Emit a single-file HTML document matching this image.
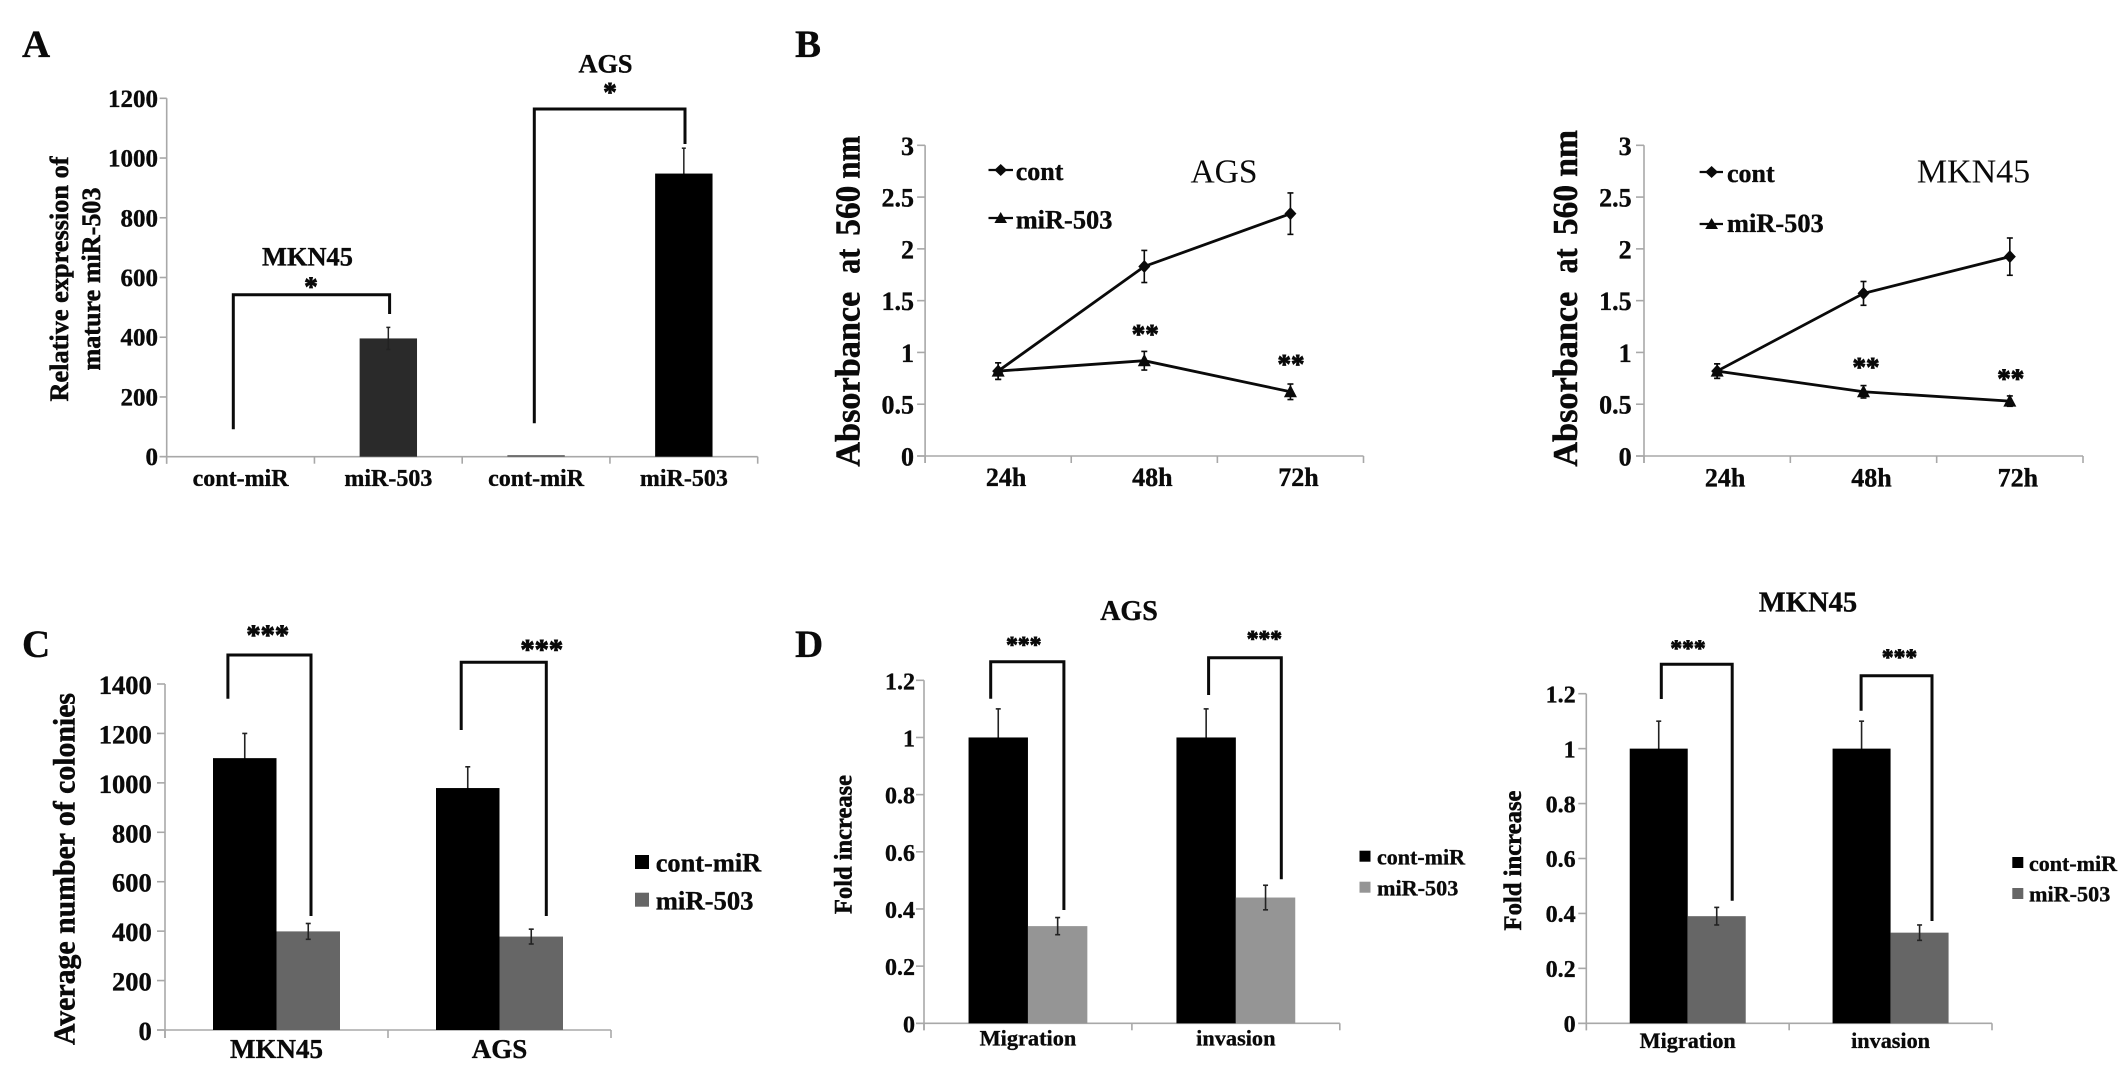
<!DOCTYPE html>
<html lang="en">
<head>
<meta charset="utf-8">
<title>miR-503 figure panels</title>
<style>
html,body{margin:0;padding:0;background:#fff;width:2126px;height:1076px;overflow:hidden}
svg{display:block;filter:blur(.35px)}
text{font-family:"Liberation Serif",serif;font-weight:bold;fill:#0a0a0a;stroke:#0a0a0a;stroke-width:.35}
.reg{font-weight:normal;stroke-width:0}
.title{stroke-width:.5}
.star{stroke-width:.9}
.br{fill:none;stroke:#0a0a0a;stroke-width:3}
.lg{stroke:#0a0a0a;stroke-width:2.2}
</style>
</head>
<body>
<svg id="figure" xmlns="http://www.w3.org/2000/svg" width="2126" height="1076" viewBox="0 0 2126 1076">
  <!-- Panel letters -->
  <text x="22" y="57" font-size="39">A</text>
  <text x="795" y="57" font-size="39">B</text>
  <text x="22" y="657" font-size="39">C</text>
  <text x="795" y="657" font-size="39">D</text>

  <!-- Axis titles -->
  <text class="title" transform="translate(68 279) rotate(-90)" text-anchor="middle" font-size="26" textLength="245" lengthAdjust="spacingAndGlyphs">Relative expression of</text>
  <text class="title" transform="translate(100 279) rotate(-90)" text-anchor="middle" font-size="26" textLength="183" lengthAdjust="spacingAndGlyphs">mature miR-503</text>
  <text class="title" transform="translate(859.5 466.7) rotate(-90)" font-size="35">
    <tspan x="0" textLength="175" lengthAdjust="spacingAndGlyphs">Absorbance</tspan>
    <tspan x="193" textLength="25" lengthAdjust="spacingAndGlyphs">at</tspan>
    <tspan x="231" textLength="50" lengthAdjust="spacingAndGlyphs">560</tspan>
    <tspan x="288" textLength="43" lengthAdjust="spacingAndGlyphs">nm</tspan>
  </text>
  <text class="title" transform="translate(1576.8 466.7) rotate(-90)" font-size="35">
    <tspan x="0" textLength="175" lengthAdjust="spacingAndGlyphs">Absorbance</tspan>
    <tspan x="193.3" textLength="25" lengthAdjust="spacingAndGlyphs">at</tspan>
    <tspan x="231.7" textLength="50" lengthAdjust="spacingAndGlyphs">560</tspan>
    <tspan x="290" textLength="46.7" lengthAdjust="spacingAndGlyphs">nm</tspan>
  </text>
  <text class="title" transform="translate(74.6 869) rotate(-90)" text-anchor="middle" font-size="31" textLength="352" lengthAdjust="spacingAndGlyphs">Average number of colonies</text>
  <text class="title" transform="translate(851.4 844.5) rotate(-90)" text-anchor="middle" font-size="25" textLength="139" lengthAdjust="spacingAndGlyphs">Fold increase</text>
  <text class="title" transform="translate(1521 860.5) rotate(-90)" text-anchor="middle" font-size="25" textLength="140" lengthAdjust="spacingAndGlyphs">Fold increase</text>

  <!-- Chart titles -->
  <text x="307.5" y="265.7" text-anchor="middle" font-size="26.4">MKN45</text>
  <text x="605.5" y="72.3" text-anchor="middle" font-size="26.3">AGS</text>
  <text class="reg" x="1224" y="182.7" text-anchor="middle" font-size="33.5">AGS</text>
  <text class="reg" x="1973.5" y="182.7" text-anchor="middle" font-size="34">MKN45</text>
  <text x="1129" y="620" text-anchor="middle" font-size="28">AGS</text>
  <text x="1808" y="611.7" text-anchor="middle" font-size="28.6">MKN45</text>

  <!-- Significance stars -->
  <text class="star" x="311" y="295.5" text-anchor="middle" font-size="27">*</text>
  <text class="star" x="610" y="101" text-anchor="middle" font-size="27">*</text>
  <text class="star" x="1145.2" y="343" text-anchor="middle" font-size="27">**</text>
  <text class="star" x="1291" y="373" text-anchor="middle" font-size="27">**</text>
  <text class="star" x="1866" y="376" text-anchor="middle" font-size="27">**</text>
  <text class="star" x="2010.7" y="387.7" text-anchor="middle" font-size="27">**</text>
  <text class="star" x="267.7" y="644.7" text-anchor="middle" font-size="28.5">***</text>
  <text class="star" x="541.8" y="659" text-anchor="middle" font-size="28.5">***</text>
  <text class="star" x="1023.8" y="652.7" text-anchor="middle" font-size="23.5">***</text>
  <text class="star" x="1264.4" y="646.7" text-anchor="middle" font-size="23.5">***</text>
  <text class="star" x="1688" y="656" text-anchor="middle" font-size="23.5">***</text>
  <text class="star" x="1899.5" y="665" text-anchor="middle" font-size="23.5">***</text>

  <!-- Legends -->
  <g>
    <line class="lg" x1="988.5" y1="170" x2="1013" y2="170"/>
    <polygon points="1000.7,164 1007,170 1000.7,176 994.4,170" fill="#0a0a0a"/>
    <text x="1015.7" y="180" font-size="26">cont</text>
    <line class="lg" x1="988.5" y1="218" x2="1013" y2="218"/>
    <polygon points="1000.7,212 1007,223 994.4,223" fill="#0a0a0a"/>
    <text x="1015.7" y="228.3" font-size="26.4">miR-503</text>
  </g>
  <g>
    <line class="lg" x1="1699.6" y1="172" x2="1723" y2="172"/>
    <polygon points="1711.6,166 1718,172 1711.6,178 1705.2,172" fill="#0a0a0a"/>
    <text x="1727" y="182" font-size="26">cont</text>
    <line class="lg" x1="1699.6" y1="224" x2="1723" y2="224"/>
    <polygon points="1711.6,218 1718,229 1705.2,229" fill="#0a0a0a"/>
    <text x="1727" y="232" font-size="26.4">miR-503</text>
  </g>
  <g>
    <rect x="635" y="855" width="14" height="14" fill="#000"/>
    <text x="655.7" y="871.7" font-size="26.4">cont-miR</text>
    <rect x="635" y="892.7" width="14" height="14" fill="#666"/>
    <text x="655.7" y="909.3" font-size="26.7">miR-503</text>
  </g>
  <g>
    <rect x="1359.5" y="850.7" width="11" height="11" fill="#000"/>
    <text x="1377" y="864.3" font-size="22">cont-miR</text>
    <rect x="1359.5" y="881.7" width="11" height="11" fill="#959595"/>
    <text x="1377" y="895.7" font-size="22.2">miR-503</text>
  </g>
  <g>
    <rect x="2012.3" y="857" width="11" height="11" fill="#000"/>
    <text x="2029" y="871" font-size="22">cont-miR</text>
    <rect x="2012.3" y="888" width="11" height="11" fill="#666"/>
    <text x="2029" y="901.7" font-size="22.2">miR-503</text>
  </g>
</svg>

<script>
// ---- Panel A data
const aCategories = ['cont-miR', 'miR-503', 'cont-miR', 'miR-503'];
const aValues = [0, 396, 5, 948];
const aErrors = [0, 37, 0, 85];
const aYTicks = ['0', '200', '400', '600', '800', '1000', '1200'];

// ---- Panel B data
const bCategories = ['24h', '48h', '72h'];
const bYTicks = ['0', '0.5', '1', '1.5', '2', '2.5', '3'];
const bAgsCont = [0.82, 1.83, 2.34];
const bAgsContErr = [0.08, 0.155, 0.2];
const bAgsMir = [0.82, 0.92, 0.62];
const bAgsMirErr = [0.08, 0.09, 0.075];
const bMknCont = [0.82, 1.57, 1.925];
const bMknContErr = [0.07, 0.115, 0.18];
const bMknMir = [0.82, 0.62, 0.53];
const bMknMirErr = [0.07, 0.06, 0.05];

// ---- Panel C data
const cCategories = ['MKN45', 'AGS'];
const cYTicks = ['0', '200', '400', '600', '800', '1000', '1200', '1400'];
const cCont = [1100, 979];
const cContErr = [100, 86];
const cMir = [399, 378];
const cMirErr = [32, 30];

// ---- Panel D data
const dCategories = ['Migration', 'invasion'];
const dYTicks = ['0', '0.2', '0.4', '0.6', '0.8', '1', '1.2'];
const dAgsCont = [1, 1];
const dAgsContErr = [0.1, 0.1];
const dAgsMir = [0.34, 0.44];
const dAgsMirErr = [0.03, 0.043];
const dMknCont = [1, 1];
const dMknContErr = [0.1, 0.1];
const dMknMir = [0.39, 0.33];
const dMknMirErr = [0.032, 0.028];

// ---- Drawing helpers
const SVG_NS = 'http://www.w3.org/2000/svg';
const root = document.getElementById('figure');

function mk(parent, tag, props, name) {
  const el = document.createElementNS(SVG_NS, tag);
  for (const k in props) el.setAttribute(k, props[k]);
  
  
  parent.appendChild(el);
  return el;
}
function linear(d0, d1, r0, r1) {
  return function (v) { return r0 + (v - d0) / (d1 - d0) * (r1 - r0); };
}
function group(name) {
  return mk(root, 'g', {}, name);
}

function drawAxes(g, box, yTicks, categories, slotCount) {
  const maxV = parseFloat(yTicks[yTicks.length - 1]);
  const y = linear(0, maxV, box.y0, box.y1);
  const slot = (box.x1 - box.x0) / slotCount;
  const x = function (i) { return box.x0 + slot * (i + 0.5); };
  const axisStyle = { stroke: '#a8a8a8', 'stroke-width': 1.6 };
  mk(g, 'line', Object.assign({ x1: box.x0, x2: box.x0, y1: box.y1, y2: box.y0 + box.tickDown }, axisStyle), 'y-axis-line');
  mk(g, 'line', Object.assign({ x1: box.x0 - box.tickLeft, x2: box.x1, y1: box.y0, y2: box.y0 }, axisStyle), 'x-axis-line');
  yTicks.forEach(function (t) {
    const v = parseFloat(t);
    mk(g, 'line', Object.assign({ x1: box.x0 - box.tickLeft, x2: box.x0, y1: y(v), y2: y(v) }, axisStyle), 'y-tick-mark');
    const lab = mk(g, 'text', { x: box.labelRight, y: y(v) + box.labelDy, 'text-anchor': 'end', 'font-size': box.yFont }, 'y-tick-label');
    lab.textContent = t;
  });
  for (let i = 0; i <= slotCount; i++) {
    const tx = box.x0 + slot * i;
    mk(g, 'line', Object.assign({ x1: tx, x2: tx, y1: box.y0, y2: box.y0 + box.tickDown }, axisStyle), 'x-tick-mark');
  }
  categories.forEach(function (c, i) {
    const lab = mk(g, 'text', { x: x(i) + box.catDx, y: box.catY, 'text-anchor': 'middle', 'font-size': box.xFont }, 'x-tick-label');
    lab.textContent = c;
  });
  return { x: x, y: y, slot: slot };
}

function errorBar(g, cx, yScale, value, err, cap, width, color, name) {
  if (!err) return;
  const top = yScale(value + err), bot = yScale(value - err);
  const st = { stroke: color, 'stroke-width': width };
  mk(g, 'line', Object.assign({ x1: cx, x2: cx, y1: top, y2: bot }, st), name + '-stem');
  mk(g, 'line', Object.assign({ x1: cx - cap, x2: cx + cap, y1: top, y2: top }, st), name + '-cap-top');
  mk(g, 'line', Object.assign({ x1: cx - cap, x2: cx + cap, y1: bot, y2: bot }, st), name + '-cap-bottom');
}

function bar(g, left, width, yScale, value, color, name) {
  const top = yScale(value);
  mk(g, 'rect', { x: left, y: top, width: width, height: Math.max(0, yScale(0) - top), fill: color }, name);
}

function groupedBars(g, ax, barW, first, firstErr, second, secondErr, secondColor) {
  // control errors sit behind the black bars, so only the upper half shows
  first.forEach(function (v, i) {
    errorBar(g, ax.x(i) - barW / 2, ax.y, v, firstErr[i], 2.5, 1.6, '#222', 'error-cont-miR');
  });
  first.forEach(function (v, i) {
    bar(g, ax.x(i) - barW, barW, ax.y, v, '#000', 'bar-cont-miR');
  });
  second.forEach(function (v, i) {
    bar(g, ax.x(i), barW, ax.y, v, secondColor, 'bar-miR-503');
  });
  second.forEach(function (v, i) {
    errorBar(g, ax.x(i) + barW / 2, ax.y, v, secondErr[i], 2.5, 1.6, '#222', 'error-miR-503');
  });
}

function lineSeries(g, ax, values, errors, marker, name) {
  const pts = values.map(function (v, i) { return ax.x(i) + ',' + ax.y(v); }).join(' ');
  mk(g, 'polyline', { points: pts, fill: 'none', stroke: '#0a0a0a', 'stroke-width': 2.8 }, name + '-line');
  values.forEach(function (v, i) {
    const px = ax.x(i), py = ax.y(v);
    errorBar(g, px, ax.y, v, errors[i], 3, 1.6, '#0a0a0a', name + '-error');
    const shape = marker === 'diamond'
      ? [px, py - 6.5, px + 6, py, px, py + 6.5, px - 6, py]
      : [px, py - 7, px + 6.5, py + 5.5, px - 6.5, py + 5.5];
    mk(g, 'polygon', { points: shape.join(' '), fill: '#0a0a0a' }, name + '-marker');
  });
}

function bracket(d, name) {
  const el = mk(root, 'path', { d: d, class: 'br' }, name);
  return el;
}

// ---- Panel A
const gA = group('chart-a-mature-mir-503');
const axA = drawAxes(gA, { x0: 166.7, x1: 757.7, y0: 456.7, y1: 98.3, tickLeft: 7, tickDown: 7, labelRight: 158, labelDy: 8.5, yFont: 25, xFont: 24, catDx: 0, catY: 486 }, aYTicks, aCategories, 4);
const aColors = ['#ffffff', '#2a2a2a', '#555555', '#000000'];
aValues.forEach(function (v, i) {
  if (aColors[i] === '#000000') errorBar(gA, axA.x(i), axA.y, v, aErrors[i], 2, 1.5, '#222', 'error-' + aCategories[i]);
});
aValues.forEach(function (v, i) {
  bar(gA, axA.x(i) - 28.7, 57.4, axA.y, v, aColors[i], 'bar-' + aCategories[i]);
});
aValues.forEach(function (v, i) {
  if (aColors[i] !== '#000000') errorBar(gA, axA.x(i), axA.y, v, aErrors[i], 2, 1.5, '#222', 'error-' + aCategories[i]);
});

// ---- Panel B
const bBoxAgs = { x0: 925.1, x1: 1363.5, y0: 456, y1: 145.3, tickLeft: 8, tickDown: 7, labelRight: 914, labelDy: 9.5, yFont: 26, xFont: 26, catDx: 8, catY: 486 };
const gBa = group('chart-b-ags');
const axBa = drawAxes(gBa, bBoxAgs, bYTicks, bCategories, 3);
lineSeries(gBa, axBa, bAgsCont, bAgsContErr, 'diamond', 'series-cont');
lineSeries(gBa, axBa, bAgsMir, bAgsMirErr, 'triangle', 'series-mir-503');

const bBoxMkn = { x0: 1644, x1: 2083, y0: 456, y1: 145.3, tickLeft: 8, tickDown: 7, labelRight: 1631.6, labelDy: 9.5, yFont: 26, xFont: 26, catDx: 8, catY: 486.5 };
const gBm = group('chart-b-mkn45');
const axBm = drawAxes(gBm, bBoxMkn, bYTicks, bCategories, 3);
lineSeries(gBm, axBm, bMknCont, bMknContErr, 'diamond', 'series-cont');
lineSeries(gBm, axBm, bMknMir, bMknMirErr, 'triangle', 'series-mir-503');

// ---- Panel C
const gC = group('chart-c-colonies');
const axC = drawAxes(gC, { x0: 165, x1: 611, y0: 1030, y1: 684, tickLeft: 8, tickDown: 8, labelRight: 151.7, labelDy: 10, yFont: 26.5, xFont: 27, catDx: 0, catY: 1058 }, cYTicks, cCategories, 2);
groupedBars(gC, axC, 63.5, cCont, cContErr, cMir, cMirErr, '#666666');

// ---- Panel D
const gDa = group('chart-d-ags');
const axDa = drawAxes(gDa, { x0: 924, x1: 1339.8, y0: 1023.3, y1: 680.3, tickLeft: 8, tickDown: 7, labelRight: 915, labelDy: 9, yFont: 24, xFont: 22.3, catDx: 0, catY: 1045.7 }, dYTicks, dCategories, 2);
groupedBars(gDa, axDa, 59.4, dAgsCont, dAgsContErr, dAgsMir, dAgsMirErr, '#959595');

const gDm = group('chart-d-mkn45');
const axDm = drawAxes(gDm, { x0: 1586.3, x1: 1992, y0: 1023.3, y1: 693.7, tickLeft: 8, tickDown: 7, labelRight: 1575.6, labelDy: 8.7, yFont: 24, xFont: 22.2, catDx: 0, catY: 1048 }, dYTicks, dCategories, 2);
groupedBars(gDm, axDm, 58, dMknCont, dMknContErr, dMknMir, dMknMirErr, '#666666');

// ---- Significance brackets
bracket('M233.3 429.3V294.7H389.6V314', 'a-mkn45-bracket');
bracket('M534.3 423.3V109H685V144', 'a-ags-bracket');
bracket('M227.9 698.7V655H311V916', 'c-mkn45-bracket');
bracket('M461.2 730V662.3H546.3V916', 'c-ags-bracket');
bracket('M990.7 698.7V661.7H1063.9V910', 'd-ags-migration-bracket');
bracket('M1208.6 695V657.7H1281.3V879.3', 'd-ags-invasion-bracket');
bracket('M1661.3 699V664.3H1732.2V900.7', 'd-mkn45-migration-bracket');
bracket('M1861.1 710.7V675.7H1932V921', 'd-mkn45-invasion-bracket');
</script>
</body>
</html>
